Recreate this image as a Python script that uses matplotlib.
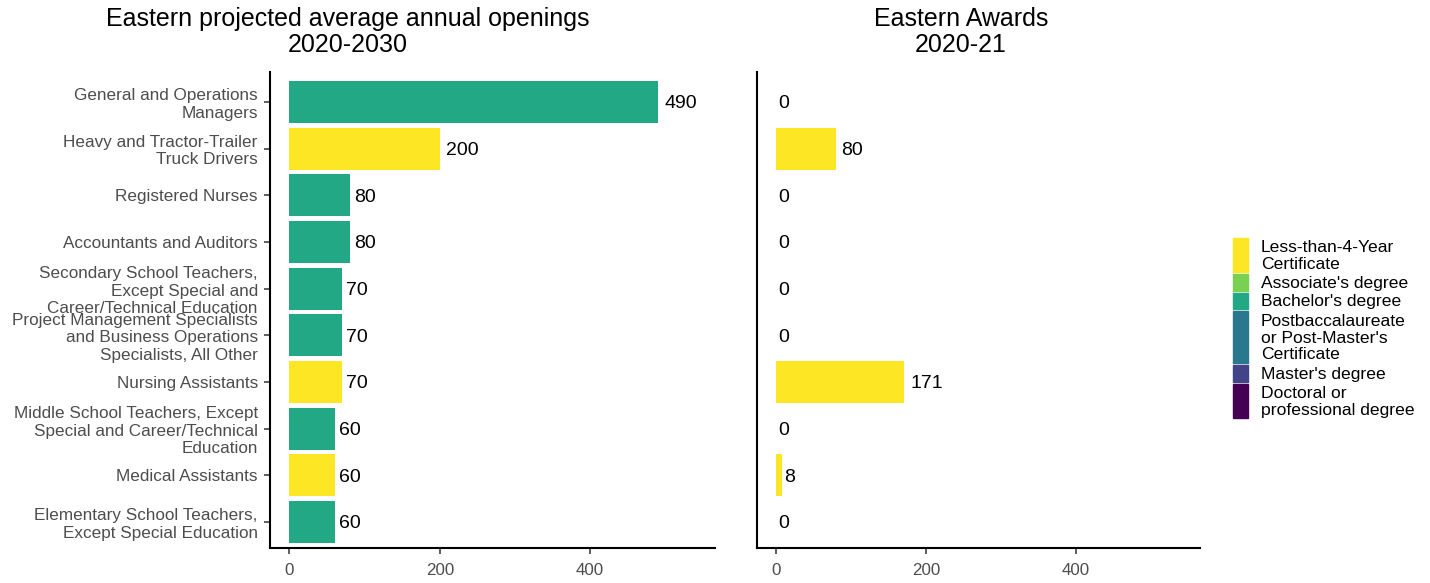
import matplotlib.pyplot as plt
from matplotlib.patches import Rectangle

plt.rcParams['font.family'] = ['Liberation Sans', 'DejaVu Sans']

occupations = [
    "General and Operations\nManagers",
    "Heavy and Tractor-Trailer\nTruck Drivers",
    "Registered Nurses",
    "Accountants and Auditors",
    "Secondary School Teachers,\nExcept Special and\nCareer/Technical Education",
    "Project Management Specialists\nand Business Operations\nSpecialists, All Other",
    "Nursing Assistants",
    "Middle School Teachers, Except\nSpecial and Career/Technical\nEducation",
    "Medical Assistants",
    "Elementary School Teachers,\nExcept Special Education",
]
openings = [490, 200, 80, 80, 70, 70, 70, 60, 60, 60]
awards = [0, 80, 0, 0, 0, 0, 171, 0, 8, 0]
education = ["Bachelor's degree", "Less-than-4-Year Certificate", "Bachelor's degree",
             "Bachelor's degree", "Bachelor's degree", "Bachelor's degree",
             "Less-than-4-Year Certificate", "Bachelor's degree",
             "Less-than-4-Year Certificate", "Bachelor's degree"]

levels = ["Less-than-4-Year Certificate", "Associate's degree", "Bachelor's degree",
          "Postbaccalaureate or Post-Master's Certificate", "Master's degree",
          "Doctoral or professional degree"]
level_labels = ["Less-than-4-Year\nCertificate", "Associate's degree", "Bachelor's degree",
                "Postbaccalaureate\nor Post-Master's\nCertificate", "Master's degree",
                "Doctoral or\nprofessional degree"]
level_colors = ["#FDE725", "#7AD151", "#22A884", "#2A788E", "#414487", "#440154"]
color_of = dict(zip(levels, level_colors))

W, H = 1430, 583
fig = plt.figure(figsize=(W / 100, H / 100), dpi=100)
ax1 = fig.add_axes([270 / W, 1 - 548 / H, (715 - 270) / W, (548 - 72) / H])
ax2 = fig.add_axes([757 / W, 1 - 548 / H, (1200 - 757) / W, (548 - 72) / H])

ypos = list(range(len(occupations)))
cols = [color_of[e] for e in education]

for ax, vals in [(ax1, openings), (ax2, awards)]:
    ax.barh(ypos, vals, height=0.9, color=cols)
    for y, v in zip(ypos, vals):
        # ggplot-style hjust: gap proportional to label width
        ax.annotate(str(v), (v, y), xytext=(1.6 * len(str(v)), -1.5), textcoords='offset points',
                    va='center', ha='left', fontsize=14, color='black')
    ax.set_xlim(-25.8, 566)
    ax.set_ylim(9.56, -0.64)
    ax.set_xticks([0, 200, 400])
    ax.tick_params(axis='x', colors='#333333', labelcolor='#4D4D4D', labelsize=12.2,
                   length=4.5, width=1.1, pad=6.5)
    for s in ['top', 'right']:
        ax.spines[s].set_visible(False)
    for s in ['left', 'bottom']:
        ax.spines[s].set_linewidth(1.5)
        ax.spines[s].set_color('black')

ax1.set_yticks(ypos)
ax1.set_yticklabels(occupations, linespacing=1.2)
ax1.tick_params(axis='y', colors='#333333', labelcolor='#4D4D4D', labelsize=12.3,
                length=4.5, width=1.1, pad=4.3)
ax2.set_yticks([])

fig.text(348 / W, 1 - 32 / H, "Eastern projected average annual openings\n2020-2030",
         ha='center', va='center', fontsize=18, linespacing=1.15)
fig.text(961 / W, 1 - 32 / H, "Eastern Awards\n2020-21",
         ha='center', va='center', fontsize=18, linespacing=1.15)

# legend drawn by hand so the keys span multi-line labels
line_px = 18.2
top = 237
for lab, col in zip(level_labels, level_colors):
    n = lab.count("\n") + 1
    h = n * line_px
    fig.patches.append(Rectangle((1233 / W, 1 - (top + h - 1) / H), 15 / W, (h - 2) / H,
                                 transform=fig.transFigure, color=col))
    fig.text(1261 / W, 1 - (top + h / 2 + 1) / H, lab, fontsize=12.6, va='center', ha='left',
             linespacing=1.15)
    top += h

fig.savefig("out.png", dpi=100)
